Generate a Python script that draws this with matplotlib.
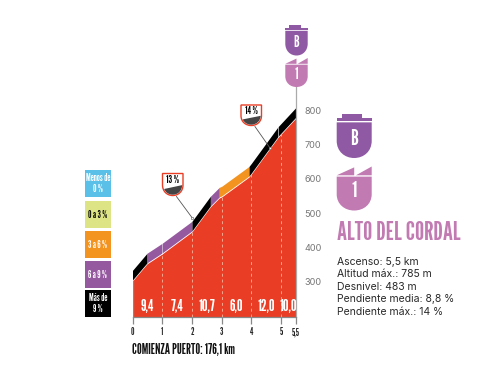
import matplotlib
matplotlib.use('Agg')
import matplotlib.pyplot as plt
import numpy as np
from matplotlib.patches import PathPatch, Polygon, Rectangle
from matplotlib.path import Path
from matplotlib import font_manager as fm


def pick(prefs, fallback='Liberation Sans', size=8):
    files = {f.fname.split('/')[-1]: f.fname for f in fm.fontManager.ttflist}
    for p in prefs:
        for k, v in files.items():
            if k.startswith(p):
                return fm.FontProperties(fname=v, size=size)
    return fm.FontProperties(family=fallback, weight='bold', size=size)


PREFS = ['LeagueGothic', 'SairaExtraCondensed-SemiBold', 'SairaExtraCondensed-Bold', 'BarlowCondensed-SemiBold']


def cond(size):
    return pick(PREFS, size=size)


# --- data ---
km = [0, 0.49, 1, 2, 2.62, 2.92, 3, 3.92, 4, 4.9, 5.5]
elev = [302, 352, 381, 445, 518, 544, 547, 605, 614, 721, 777]
band_height = 31
band_breaks = [0, 0.49, 2, 2.62, 2.92, 3.92, 4.9, 5.5]
band_colors = ['#000000', '#95599f', '#000000', '#95599f', '#f39320', '#000000', '#000000']
km_ticks = [0, 1, 2, 3, 4, 5, 5.5]
km_labels = ['0', '1', '2', '3', '4', '5', '5,5']
elev_ticks = [300, 400, 500, 600, 700, 800]
slope_pos = [0.5, 1.5, 2.5, 3.5, 4.5, 5.25]
slope_labels = ['9,4', '7,4', '10,7', '6,0', '12,0', '10,0']
legend_labels = ['Menos de\n0 %', '0 a 3 %', '3 a 6 %', '6 a 9 %', 'Más de\n9 %']
legend_colors = ['#5bc0e8', '#dde486', '#f39320', '#95599f', '#000000']
legend_text = ['white', 'black', 'white', 'white', 'white']
stats = ['Ascenso: 5,5 km', 'Altitud máx.: 785 m', 'Desnivel: 483 m',
         'Pendiente media: 8,8 %', 'Pendiente máx.: 14 %']
title = 'ALTO DEL CORDAL'
start = 'COMIENZA PUERTO: 176,1 km'
RED, PURPLE, PINK, GRAY = '#e93e25', '#8f5aa3', '#c27ab2', '#8a8a8a'

W, H = 487, 365
fig = plt.figure(figsize=(W/100, H/100), dpi=100)

L, R, B, T = 132.5, 296, 317, 87
ax = fig.add_axes([L/W, 1-B/H, (R-L)/W, (B-T)/H])
ax.set_xlim(0, 5.5)
ax.set_ylim(197, 867.5)
ax.patch.set_alpha(0)
for s in ['top', 'left']:
    ax.spines[s].set_visible(False)
ax.spines['right'].set_color('#aaaaaa')
ax.spines['right'].set_linewidth(0.9)
ax.spines['bottom'].set_color('#888888')
ax.spines['bottom'].set_linewidth(0.9)

ax.fill_between(km, elev, 197, color=RED, lw=0, zorder=2)
ax.plot([0, 0], [197, elev[0]], color='#888888', lw=0.9, zorder=3)
for t in km_ticks[1:-1]:
    ax.plot([t, t], [197, np.interp(t, km, elev)], color='#f6a58c', lw=0.7,
            dashes=(3, 3), zorder=3)

fine = np.array(sorted(set(km) | set(band_breaks)))
for a, b, c in zip(band_breaks[:-1], band_breaks[1:], band_colors):
    xs = fine[(fine >= a) & (fine <= b)]
    ys = np.interp(xs, km, elev)
    ax.fill_between(xs, ys + 3, ys + band_height, color=c, lw=0, zorder=2.5)
for b in [1, 4.9]:
    y = np.interp(b, km, elev)
    ax.plot([b, b], [y, y + band_height], color='white', lw=0.5, alpha=.7, zorder=3)

ax.set_xticks(km_ticks, km_labels, fontproperties=cond(7), color='#222222')
ax.tick_params(axis='x', length=5, width=0.9, color='#888888', pad=2.5)
ax.yaxis.tick_right()
ax.set_yticks(elev_ticks, [str(v) for v in elev_ticks], family='Inter', fontsize=6.6, color='#777777')
ax.tick_params(axis='y', length=0, pad=6)
for x, s in zip(slope_pos, slope_labels):
    ax.text(x, 228, s, color='white', fontproperties=cond(11.5),
            ha='center', va='center', zorder=4)

ov = fig.add_axes([0, 0, 1, 1])
ov.set_xlim(0, W)
ov.set_ylim(H, 0)
ov.axis('off')
ov.patch.set_alpha(0)


def shield(x0, x1, y0, y1):
    m = (x0 + x1) / 2
    h = y0 + (y1 - y0) * 0.52
    return Path([(x0, y0), (x1, y0), (x1, h), (x1, h + (y1-h)*.6), (m + (x1-x0)*.28, y1), (m, y1),
                 (m - (x1-x0)*.28, y1), (x0, h + (y1-h)*.6), (x0, h), (x0, y0)],
                [Path.MOVETO, Path.LINETO, Path.LINETO, Path.CURVE4, Path.CURVE4, Path.CURVE4,
                 Path.CURVE4, Path.CURVE4, Path.CURVE4, Path.CLOSEPOLY])


def cat_badge(x0, x1, y0, y1, label, fs):
    w, h = x1 - x0, y1 - y0
    ov.add_patch(Rectangle((x0 + .16*w, y0), .55*w, .13*h, color=PURPLE, lw=0))
    ov.add_patch(Rectangle((x0, y0 + .1*h), w, .06*h, color=PURPLE, lw=0))
    ov.add_patch(PathPatch(shield(x0, x1, y0 + .19*h, y1), fc=PURPLE, lw=0))
    ov.text((x0+x1)/2, y0 + .56*h, label, color='white', fontproperties=cond(fs),
            ha='center', va='center')


def num_badge(x0, x1, y0, y1, label, fs):
    w, h = x1 - x0, y1 - y0
    ov.add_patch(Polygon([(x0, y0+.2*h), (x0+.5*w, y0+.02*h), (x0+.5*w, y0+.2*h)], color=PINK, lw=0))
    ov.add_patch(Polygon([(x0+.55*w, y0+.2*h), (x1, y0), (x1, y0+.2*h)], color=PINK, lw=0))
    ov.add_patch(PathPatch(shield(x0, x1, y0 + .23*h, y1), fc=PINK, lw=0))
    ov.text((x0+x1)/2, y0 + .56*h, label, color='white', fontproperties=cond(fs),
            ha='center', va='center')


def pct_badge(x0, x1, y0, y1, label, tip):
    m = (x0 + x1) / 2
    ov.plot([x0 + .68*(x1-x0), tip[0]], [y1 + 1, tip[1]], color='#555555', lw=0.6)
    ov.plot([tip[0]], [tip[1]], 'o', ms=1.8, mfc='white', mec='#555555', mew=.4)
    ov.add_patch(PathPatch(shield(x0, x1, y0, y1), fc='white', ec=RED, lw=1.0, zorder=5))
    wedge = Polygon([(x0, y0+.72*(y1-y0)), (x1, y0+.52*(y1-y0)), (x1, y1), (x0, y1)],
                    fc='#444444', lw=0, zorder=5.5)
    ov.add_patch(wedge)
    wedge.set_clip_path(PathPatch(shield(x0+.8, x1-.8, y0, y1-.8), transform=ov.transData))
    ov.text(m, y0 + .3*(y1-y0), label, color='black', fontproperties=cond(7.5),
            ha='center', va='center', zorder=6)


cat_badge(285.3, 307.7, 25, 55.5, 'B', 11)
num_badge(285.3, 307.7, 58, 87, '1', 11)
cat_badge(336.7, 371.7, 114, 158, 'B', 15.5)
num_badge(336.7, 371.7, 166.5, 210.5, '1', 16)
pct_badge(162.5, 183, 173.5, 195.5, '13 %', (192.3, 218))
pct_badge(241, 261.5, 105, 125.5, '14 %', (270, 148))

tops = [170, 201, 231, 261, 290]
for y, lab, c, tc in zip(tops, legend_labels, legend_colors, legend_text):
    ov.add_patch(Rectangle((84.5, y), 26.5, 27, fc=c, lw=0))
    ov.text(97.75, y + 13.5, lab, color=tc, fontproperties=cond(7),
            ha='center', va='center', linespacing=1.1)

ov.text(337, 233, title, color=PINK, fontproperties=cond(18.6), ha='left', va='center')
for i, s in enumerate(stats):
    ov.text(337, 262 + i*12.4, s, color='#2a2a2a', family='Inter', fontsize=7.5,
            ha='left', va='center')
ov.text(132, 350, start, color='#111111', fontproperties=cond(9.8), ha='left', va='center')

fig.savefig('out.png', dpi=100)
